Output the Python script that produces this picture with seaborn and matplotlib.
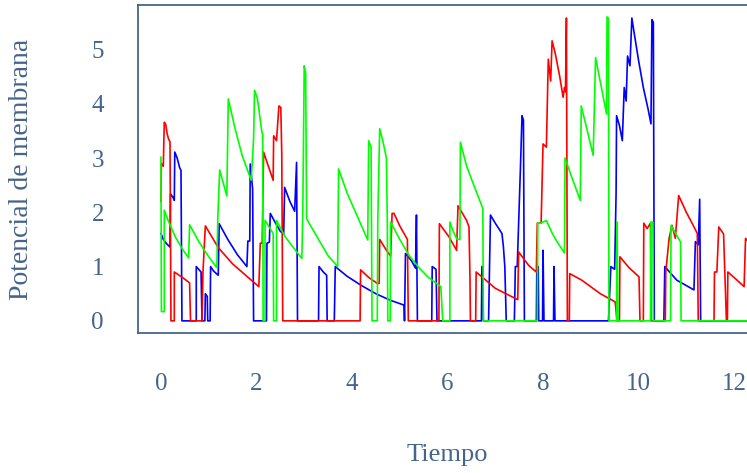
import numpy as np
import pandas as pd
import matplotlib
matplotlib.use("Agg")
import matplotlib.pyplot as plt
import seaborn as sns

# ---- data (time, membrane potential) ----
blue_t = [0.00, 0.05, 0.12, 0.19, 0.20, 0.25, 0.28, 0.29, 0.34, 0.39, 0.42, 0.44,
          0.74, 0.74, 0.84, 0.86, 0.92, 0.93, 0.97, 0.98, 1.03, 1.04, 1.10, 1.20,
          1.22, 1.40, 1.60, 1.80, 1.82, 1.86, 1.87, 1.92, 1.94, 2.21, 2.22, 2.27,
          2.29, 2.40, 2.50, 2.57, 2.59, 2.70, 2.80, 2.84, 2.86, 3.30, 3.31, 3.40,
          3.47, 3.48, 3.63, 3.65, 3.90, 4.20, 4.50, 4.80, 5.09, 5.10, 5.12, 5.25,
          5.33, 5.35, 5.37, 5.67, 5.68, 5.76, 5.78, 6.71, 6.72, 6.74, 6.75, 6.86,
          6.88, 6.90, 7.00, 7.14, 7.17, 7.20, 7.23, 7.40, 7.42, 7.46, 7.53, 7.56,
          7.59, 7.61, 7.86, 7.87, 7.90, 7.91, 7.99, 8.00, 8.02, 8.22, 8.23, 8.25,
          9.37, 9.42, 9.50, 9.53, 9.54, 9.60, 9.66, 9.70, 9.74, 9.77, 9.82, 9.86,
          9.90, 10.00, 10.10, 10.20, 10.26, 10.28, 10.31, 10.33, 10.53, 10.55, 10.60,
          10.80, 11.00, 11.16, 11.19, 11.25, 11.28, 11.30, 12.60]
blue_v = [1.61, 1.50, 1.42, 1.36, 2.34, 2.28, 2.22, 3.11, 3.00, 2.83, 2.77, 0.00,
          0.00, 1.00, 0.90, 0.00, 0.00, 0.50, 0.45, 0.00, 0.00, 1.00, 0.92, 0.84,
          1.79, 1.50, 1.22, 1.00, 1.47, 1.47, 2.89, 2.43, 0.00, 0.00, 1.43, 1.45,
          1.98, 1.80, 1.65, 1.60, 2.46, 2.20, 2.02, 2.92, 0.00, 0.00, 1.00, 0.90,
          0.84, 0.00, 0.00, 1.00, 0.82, 0.65, 0.50, 0.38, 0.29, 0.00, 1.24, 1.10,
          0.97, 1.95, 0.00, 0.00, 1.00, 0.95, 0.00, 0.00, 1.00, 1.00, 0.00, 0.00,
          1.00, 1.95, 1.80, 1.61, 1.37, 1.00, 0.00, 0.00, 1.00, 1.00, 2.90, 3.78,
          3.70, 0.00, 0.00, 1.00, 1.00, 0.00, 0.00, 1.30, 0.00, 0.00, 1.00, 0.00,
          0.00, 1.00, 0.95, 2.37, 3.78, 3.60, 3.32, 4.30, 4.05, 4.88, 4.70, 5.58,
          5.35, 4.80, 4.30, 3.90, 3.63, 5.55, 5.50, 0.00, 0.00, 1.00, 0.95,
          0.75, 0.65, 0.57, 1.46, 1.40, 2.24, 0.00, 0.00]

red_t = [0.00, 0.01, 0.05, 0.07, 0.10, 0.13, 0.16, 0.19, 0.20, 0.21, 0.28, 0.28,
         0.45, 0.60, 0.62, 0.86, 0.88, 0.93, 1.20, 1.50, 1.80, 2.05, 2.08, 2.12,
         2.15, 2.21, 2.35, 2.36, 2.42, 2.47, 2.51, 2.53, 2.55, 4.17, 4.18, 4.35,
         4.53, 4.57, 4.58, 4.70, 4.81, 4.84, 4.88, 5.00, 5.16, 5.18, 5.82, 5.83,
         6.03, 6.19, 6.22, 6.30, 6.40, 6.45, 6.47, 6.48, 6.59, 6.60, 7.00, 7.47,
         7.49, 7.70, 7.86, 7.88, 7.96, 8.00, 8.07, 8.11, 8.16, 8.19, 8.26, 8.35,
         8.42, 8.45, 8.47, 8.49, 8.51, 8.55, 8.56, 8.81, 9.20, 9.51, 9.55, 9.60,
         9.61, 9.80, 10.01, 10.03, 10.10, 10.11, 10.18, 10.25, 10.26, 10.56, 10.57,
         10.64, 10.70, 10.77, 10.84, 11.00, 11.15, 11.23, 11.25, 11.58, 11.59,
         11.64, 11.68, 11.78, 11.84, 11.86, 11.87, 12.00, 12.21, 12.24, 12.40, 12.60]
red_v = [2.20, 2.90, 2.85, 3.66, 3.62, 3.45, 3.35, 3.30, 1.70, 0.00, 0.00, 0.90,
         0.80, 0.70, 0.00, 0.00, 0.90, 1.75, 1.35, 1.05, 0.82, 0.63, 1.43, 1.43,
         3.11, 2.95, 2.59, 3.41, 3.32, 3.96, 3.93, 3.08, 0.00, 0.00, 0.94, 0.80,
         0.69, 0.69, 1.50, 1.33, 1.19, 1.98, 1.98, 1.75, 1.50, 0.00, 0.00, 1.79,
         1.55, 1.30, 2.12, 2.00, 1.85, 1.73, 0.81, 0.00, 0.00, 0.90, 0.60, 0.39,
         1.27, 1.02, 0.90, 1.80, 1.80, 3.26, 3.20, 4.82, 4.42, 5.16, 4.91, 4.50,
         4.12, 4.30, 4.22, 5.58, 0.00, 0.00, 0.87, 0.75, 0.50, 0.35, 0.00, 0.00,
         1.18, 0.98, 0.81, 0.00, 0.00, 1.80, 1.70, 1.80, 0.00, 0.00, 0.90,
         1.52, 1.76, 1.52, 2.31, 2.00, 1.75, 1.61, 0.00, 0.00, 0.90,
         0.90, 1.73, 1.60, 0.00, 0.00, 0.90, 0.80, 0.63, 1.52, 1.35, 1.25]

green_t = [0.00, 0.01, 0.07, 0.07, 0.15, 0.30, 0.45, 0.58, 0.60, 0.80, 1.00, 1.17,
           1.19, 1.23, 1.38, 1.41, 1.55, 1.70, 1.89, 1.94, 1.96, 2.02, 2.11, 2.13,
           2.14, 2.18, 2.18, 2.35, 2.36, 2.42, 2.42, 2.60, 2.80, 2.95, 2.97, 3.00,
           3.03, 3.05, 3.30, 3.50, 3.70, 3.72, 3.90, 4.10, 4.33, 4.35, 4.40, 4.42,
           4.53, 4.54, 4.58, 4.65, 4.72, 4.74, 4.75, 4.80, 4.81, 5.00, 5.20, 5.40,
           5.60, 5.86, 5.90, 6.05, 6.05, 6.12, 6.20, 6.26, 6.27, 6.40, 6.55, 6.74,
           6.75, 7.88, 7.89, 7.95, 8.07, 8.20, 8.30, 8.45, 8.46, 8.60, 8.78, 8.80,
           8.90, 9.05, 9.10, 9.20, 9.33, 9.34, 9.37, 9.38, 9.54, 9.55, 9.57, 10.25,
           10.26, 10.30, 10.31, 10.67, 10.68, 10.75, 10.88, 10.89, 12.60]
green_v = [3.02, 0.17, 0.17, 2.04, 1.85, 1.55, 1.32, 1.16, 1.77, 1.45, 1.18, 0.98,
           1.86, 2.78, 2.30, 4.09, 3.55, 3.05, 2.59, 3.35, 4.25, 4.10, 3.50, 3.44,
           0.00, 0.00, 1.85, 1.61, 0.00, 0.00, 1.85, 1.55, 1.32, 1.15, 1.98, 4.70,
           4.57, 1.88, 1.50, 1.20, 1.00, 2.80, 2.35, 1.95, 1.49, 3.32, 3.20, 0.00,
           0.00, 1.82, 3.54, 3.30, 3.00, 1.82, 0.00, 0.00, 1.82, 1.50, 1.20, 0.98,
           0.80, 0.63, 0.00, 0.00, 1.82, 1.65, 1.50, 1.50, 3.29, 2.85, 2.50, 2.07,
           0.00, 0.00, 1.80, 1.80, 1.85, 1.60, 1.45, 1.25, 3.00, 2.65, 2.22, 3.96,
           3.60, 3.05, 4.85, 4.40, 3.81, 5.60, 5.58, 0.00, 0.00, 1.82, 0.00, 0.00,
           1.82, 1.82, 0.00, 0.00, 1.76, 1.65, 1.45, 0.00, 0.00]

x_ticks = [0, 2, 4, 6, 8, 10, 12]
y_ticks = [0, 1, 2, 3, 4, 5]
x_label = "Tiempo"
y_label = "Potencial de membrana"

frames = []
for name, t, v in [("azul", blue_t, blue_v), ("rojo", red_t, red_v), ("verde", green_t, green_v)]:
    frames.append(pd.DataFrame({"t": t, "v": v, "neurona": name}))
df = pd.concat(frames, ignore_index=True)

sns.set_style("white")
plt.rcParams["font.family"] = ["Liberation Serif", "DejaVu Serif"]

axis_col = "#45648a"

fig = plt.figure(figsize=(7.47, 4.73), dpi=100)
ax = fig.add_axes([138 / 747, 140 / 473, 619 / 747, 328 / 473])

sns.lineplot(data=df, x="t", y="v", hue="neurona",
             palette={"azul": "#0000ff", "rojo": "#ff0000", "verde": "#00ff00"},
             estimator=None, sort=False, legend=False, linewidth=1.2, ax=ax)

ax.set_xlim(-0.48, 12.48)
ax.set_ylim(-0.224, 5.82)
ax.set_xticks(x_ticks)
ax.set_yticks(y_ticks)

for side in ["left", "bottom", "top", "right"]:
    ax.spines[side].set_color(axis_col)
    ax.spines[side].set_linewidth(1.3)

ax.tick_params(axis="both", colors=axis_col, length=11.5, width=1.3, direction="out",
               labelsize=18, labelcolor=axis_col)
ax.tick_params(axis="x", pad=17)
ax.tick_params(axis="y", pad=13)

ax.set_xlabel(x_label, fontsize=19, color=axis_col, va="center")
ax.set_ylabel(y_label, fontsize=20, color=axis_col, va="center")
ax.xaxis.set_label_coords(0.499, (333 - 455) / 328)
ax.yaxis.set_label_coords((22 - 138) / 619, (333 - 169) / 328)

fig.savefig("out.png", dpi=100)
